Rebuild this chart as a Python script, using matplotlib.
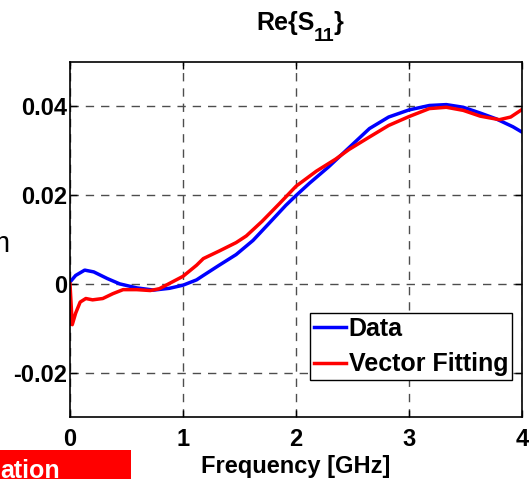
import matplotlib
matplotlib.use("Agg")
import matplotlib.pyplot as plt
from matplotlib.patches import Rectangle

plt.rcParams['font.family'] = ['Liberation Sans', 'DejaVu Sans']

freq_data = [0.0, 0.05, 0.13, 0.21, 0.33, 0.44, 0.59, 0.74, 0.88, 1.0, 1.12, 1.18,
             1.32, 1.47, 1.62, 1.76, 1.91, 2.0, 2.12, 2.29, 2.44, 2.65, 2.82, 3.0,
             3.18, 3.33, 3.48, 3.63, 3.77, 3.92, 4.0]
re_data = [0.0004, 0.0019, 0.0031, 0.0027, 0.0012, 0.0000, -0.0009, -0.0014, -0.0010,
           -0.0003, 0.0009, 0.0019, 0.0042, 0.0066, 0.0098, 0.0136, 0.0177, 0.0199,
           0.0227, 0.0264, 0.0300, 0.0350, 0.0376, 0.0392, 0.0402, 0.0404, 0.0398,
           0.0385, 0.0372, 0.0354, 0.0342]

freq_fit = [0.0, 0.02, 0.05, 0.09, 0.14, 0.2, 0.29, 0.38, 0.47, 0.59, 0.71, 0.79, 0.88,
            1.0, 1.12, 1.18, 1.32, 1.47, 1.56, 1.70, 1.85, 2.0, 2.18, 2.35, 2.47, 2.65,
            2.82, 3.0, 3.18, 3.33, 3.48, 3.63, 3.80, 3.90, 4.0]
re_fit = [0.0, -0.0092, -0.0066, -0.0041, -0.0033, -0.0036, -0.0033, -0.0022, -0.0013,
          -0.0013, -0.0015, -0.0011, 0.0001, 0.0017, 0.0042, 0.0057, 0.0074, 0.0093,
          0.0108, 0.0141, 0.0180, 0.0220, 0.0254, 0.0281, 0.0303, 0.0331, 0.0357,
          0.0377, 0.0395, 0.0398, 0.0391, 0.0378, 0.0370, 0.0376, 0.0393]

xticks = [0, 1, 2, 3, 4]
yticks = [-0.02, 0, 0.02, 0.04]
ytick_labels = ['-0.02', '0', '0.02', '0.04']
title_parts = ['Re{S', '11', '}']

W, H = 529, 479
fig = plt.figure(figsize=(W / 100, H / 100), dpi=100)
ax = fig.add_axes([70/W, 1-417/H, (522-70)/W, (417-62)/H])

ax.plot(freq_data, re_data, color='#0000ff', lw=2.5, label='Data')
ax.plot(freq_fit, re_fit, color='#ff0000', lw=2.5, label='Vector Fitting')

ax.set_xlim(0, 4)
ax.set_ylim(-0.03, 0.05)
ax.set_xticks(xticks)
ax.set_xticklabels([str(t) for t in xticks])
ax.set_yticks(yticks)
ax.set_yticklabels(ytick_labels)
ax.tick_params(direction='in', length=5, width=1, top=True, right=True,
               labelsize=17)
ax.tick_params(axis='x', pad=8)
ax.tick_params(axis='y', pad=2)
for lbl in ax.get_xticklabels() + ax.get_yticklabels():
    lbl.set_fontweight('bold')
ax.grid(True, color='0.3', linestyle=(0, (6, 5)), linewidth=1)
for s in ax.spines.values():
    s.set_linewidth(1.2)
    s.set_color('k')

ax.set_xlabel('Frequency [GHz]', fontsize=17, fontweight='bold', labelpad=3)

# title composed of pieces: Re{S, subscript 11, }
renderer = fig.canvas.get_renderer()
x_px = 256
base_y = 1 - 30/H
sizes = [18, 14, 18]
drops = [0, 11, 0]
gaps = [-1, -1, 0]
for part, sz, dr, gp in zip(title_parts, sizes, drops, gaps):
    t = fig.text(x_px/W, base_y - dr/H, part, fontsize=sz, fontweight='bold',
                 ha='left', va='baseline')
    bb = t.get_window_extent(renderer)
    x_px += bb.width + gp

leg = ax.legend(loc='lower right', prop={'weight': 'bold', 'size': 18},
                handlelength=1.3, handletextpad=0.1, borderpad=0.15,
                labelspacing=0.45, fancybox=False, framealpha=1,
                borderaxespad=0, bbox_to_anchor=((512-70)/452, (417-380)/355))
leg.get_frame().set_edgecolor('k')
leg.get_frame().set_linewidth(1)

# cropped neighbouring elements
fig.text(9/W, 1-252/H, 'm', fontsize=21, va='baseline', ha='right')
fig.patches.append(Rectangle((0, 0), 131/W, 29/H, transform=fig.transFigure,
                             facecolor='#ff0000', edgecolor='none'))
fig.text(0, 1-478/H, 'ation', fontsize=18, fontweight='bold', color='white',
         ha='left', va='baseline')

fig.savefig('out.png', dpi=100)
